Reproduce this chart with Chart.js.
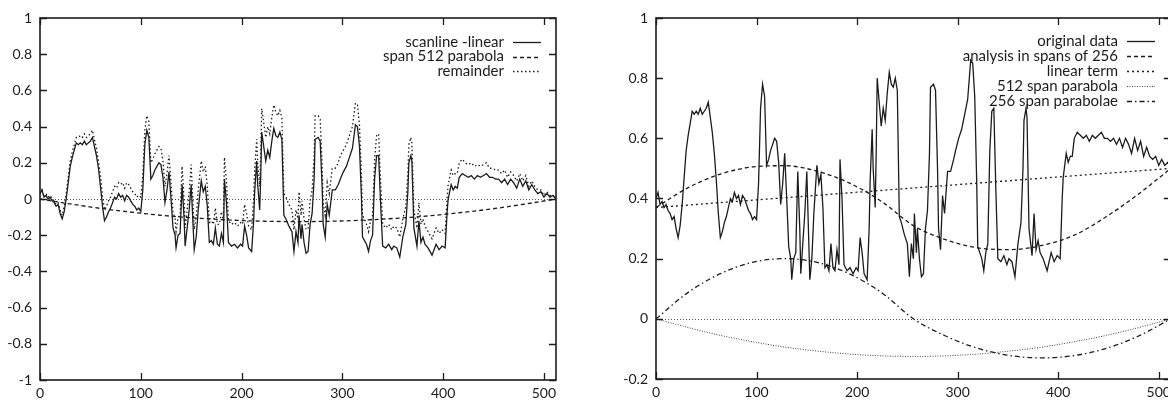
<!DOCTYPE html>
<html lang="en">
<head>
<meta charset="UTF-8">
<title>Scanline analysis</title>
<script src="https://cdn.jsdelivr.net/npm/chart.js"></script>
<style>
  html, body { margin: 0; padding: 0; background: #fff; overflow: hidden; width: 1168px; height: 401px; }
  canvas { position: absolute; top: 0; }
  #leftChart { left: 0; }
  #rightChart { left: 584px; }
</style>
</head>
<body>
<canvas id="leftChart" width="584" height="401"></canvas>
<canvas id="rightChart" width="592" height="401"></canvas>
<script>
// scanline sample positions (pixel index along the line)
const scanX = [
  0, 2, 4, 6, 8, 10, 12, 14, 16, 18,
  20, 22, 24, 26, 28, 30, 32, 34, 36, 38,
  40, 42, 44, 46, 48, 50, 52, 54, 56, 58,
  60, 62, 64, 66, 68, 70, 72, 74, 76, 78,
  80, 82, 84, 86, 88, 90, 92, 94, 96, 98,
  100, 102, 104, 106, 108, 110, 112, 114, 116, 118,
  120, 122, 124, 126, 128, 130, 132, 134, 135, 137,
  139, 141, 143, 144, 146, 148, 150, 152, 153, 155,
  157, 160, 162, 164, 166, 168, 170, 172, 174, 176,
  178, 180, 182, 183, 185, 187, 190, 193, 196, 199,
  201, 203, 205, 207, 210, 212, 213, 215, 216, 218,
  219, 220, 222, 224, 226, 228, 230, 232, 234, 236,
  238, 240, 241, 242, 244, 247, 250, 252, 254, 256,
  257, 259, 260, 262, 264, 266, 268, 270, 272, 273,
  276, 278, 280, 281, 283, 285, 287, 290, 293, 296,
  298, 301, 304, 307, 310, 313, 315, 317, 319, 320,
  322, 324, 326, 328, 330, 332, 334, 336, 338, 340,
  343, 346, 349, 351, 354, 357, 360, 363, 365, 366,
  368, 369, 371, 374, 376, 378, 380, 382, 385, 389,
  391, 393, 396, 399, 402, 404, 405, 408, 410, 412,
  414, 416, 419, 422, 425, 428, 431, 434, 437, 440,
  443, 446, 449, 452, 455, 458, 461, 464, 467, 470,
  473, 476, 479, 482, 485, 488, 491, 494, 497, 500,
  503, 506, 509, 512
];

// right plot: original data
const originalData = [
  .40, .42, .38, .39, .37, .38, .36, .35, .33, .34,
  .30, .27, .31, .38, .47, .56, .61, .65, .69, .68,
  .69, .68, .70, .68, .69, .70, .72, .67, .62, .55,
  .46, .35, .27, .29, .32, .34, .37, .40, .39, .42,
  .40, .41, .38, .41, .40, .38, .36, .35, .33, .34,
  .33, .45, .70, .78, .74, .51, .53, .56, .58, .60,
  .59, .52, .38, .45, .55, .40, .24, .20, .13, .20,
  .22, .49, .30, .15, .25, .35, .49, .25, .13, .20,
  .35, .51, .45, .48, .37, .17, .18, .16, .25, .17,
  .16, .23, .18, .53, .40, .18, .16, .17, .15, .17,
  .16, .27, .22, .15, .13, .30, .46, .63, .50, .37,
  .55, .80, .72, .64, .70, .66, .75, .82, .78, .77,
  .80, .76, .55, .34, .32, .28, .25, .14, .25, .20,
  .35, .22, .30, .20, .14, .15, .30, .36, .55, .77,
  .78, .76, .50, .30, .23, .41, .35, .49, .49, .53,
  .56, .60, .63, .68, .73, .86, .85, .74, .45, .24,
  .22, .20, .16, .22, .25, .56, .69, .70, .43, .20,
  .19, .21, .18, .20, .19, .14, .25, .32, .50, .66,
  .70, .67, .30, .21, .35, .23, .26, .22, .20, .16,
  .19, .22, .19, .21, .20, .40, .47, .55, .52, .54,
  .54, .60, .62, .61, .60, .61, .59, .61, .60, .61,
  .62, .60, .60, .59, .60, .58, .60, .57, .60, .58,
  .55, .60, .56, .59, .54, .57, .54, .53, .54, .51,
  .53, .51, .52, .50
];

// left plot: scanline minus linear term
const scanlineMinusLinear = [
  .03, .05, .01, .02, .00, .01, -.01, -.02, -.04, -.03,
  -.08, -.11, -.07, .00, .09, .18, .23, .27, .31, .30,
  .31, .30, .32, .30, .31, .32, .34, .29, .24, .17,
  .07, -.04, -.12, -.10, -.07, -.05, -.02, .01, .00, .03,
  .01, .02, -.01, .02, .01, -.01, -.03, -.04, -.06, -.05,
  -.07, .05, .30, .38, .34, .11, .13, .16, .18, .20,
  .19, .12, -.02, .05, .15, .00, -.16, -.20, -.27, -.20,
  -.19, .08, -.11, -.26, -.16, -.06, .08, -.16, -.28, -.21,
  -.06, .10, .04, .07, -.04, -.24, -.23, -.25, -.16, -.25,
  -.26, -.19, -.24, .11, -.02, -.24, -.26, -.25, -.27, -.25,
  -.26, -.15, -.20, -.27, -.29, -.12, .04, .21, .08, -.06,
  .12, .37, .29, .21, .27, .23, .32, .39, .35, .34,
  .37, .33, .12, -.09, -.11, -.15, -.18, -.29, -.18, -.24,
  -.09, -.22, -.14, -.24, -.30, -.29, -.14, -.08, .11, .33,
  .34, .32, .06, -.14, -.21, -.03, -.09, .05, .05, .08,
  .11, .15, .18, .23, .28, .41, .40, .29, .00, -.21,
  -.23, -.25, -.29, -.23, -.20, .11, .24, .24, -.03, -.26,
  -.27, -.25, -.28, -.26, -.27, -.32, -.21, -.14, .04, .20,
  .24, .21, -.16, -.26, -.12, -.24, -.21, -.25, -.27, -.31,
  -.28, -.25, -.28, -.26, -.27, -.07, .00, .08, .05, .07,
  .06, .12, .14, .13, .12, .13, .11, .13, .12, .13,
  .14, .12, .12, .11, .11, .09, .11, .08, .11, .09,
  .06, .11, .07, .10, .05, .08, .05, .03, .04, .01,
  .03, .01, .02, .00
];

// left plot: remainder after the 512 span parabola
const remainderData = [
  .03, .05, .01, .03, .01, .02, .00, -.01, -.03, -.02,
  -.06, -.09, -.04, .03, .12, .21, .26, .30, .34, .34,
  .35, .34, .36, .34, .35, .36, .38, .33, .28, .21,
  .13, .02, -.06, -.04, -.01, .01, .04, .07, .06, .09,
  .08, .09, .06, .09, .08, .06, .04, .03, .01, .02,
  .01, .13, .38, .46, .43, .20, .22, .25, .27, .29,
  .28, .21, .07, .14, .24, .09, -.07, -.11, -.18, -.10,
  -.09, .18, -.01, -.16, -.06, .04, .19, -.05, -.17, -.10,
  .05, .21, .15, .18, .07, -.13, -.12, -.14, -.05, -.14,
  -.14, -.07, -.12, .23, .10, -.12, -.14, -.13, -.15, -.13,
  -.14, -.03, -.08, -.15, -.17, .00, .16, .33, .20, .07,
  .25, .50, .42, .34, .40, .36, .45, .52, .48, .46,
  .49, .45, .24, .03, .01, -.03, -.06, -.17, -.06, -.11,
  .04, -.09, -.01, -.11, -.17, -.16, -.01, .05, .24, .46,
  .46, .44, .18, -.02, -.09, .09, .03, .17, .17, .20,
  .24, .27, .30, .35, .40, .53, .52, .41, .12, -.09,
  -.11, -.14, -.18, -.12, -.09, .22, .35, .36, .09, -.14,
  -.16, -.14, -.17, -.15, -.16, -.21, -.11, -.04, .14, .30,
  .34, .31, -.06, -.16, -.02, -.14, -.11, -.15, -.18, -.22,
  -.19, -.16, -.19, -.17, -.19, .01, .08, .16, .13, .14,
  .14, .20, .22, .20, .19, .20, .18, .19, .18, .19,
  .20, .17, .17, .16, .16, .14, .16, .12, .15, .13,
  .10, .14, .10, .13, .07, .10, .07, .05, .05, .02,
  .04, .02, .02, .00
];

// smooth fitted curves, read every 32 samples
const curveX = [0, 32, 64, 96, 128, 160, 192, 224, 256, 288, 320, 352, 384, 416, 448, 480, 512];
const parabola512 = [0, -.029, -.055, -.076, -.094, -.107, -.117, -.123, -.125, -.123, -.117, -.107, -.094, -.076, -.055, -.029, 0];
const parabolae256 = [0, .088, .15, .188, .2, .188, .15, .088, 0, -.057, -.098, -.122, -.13, -.122, -.098, -.057, 0];
const analysis256 = [.37, .436, .481, .505, .509, .491, .452, .391, .31, .263, .236, .23, .244, .278, .34, .415, .5];
const linearX = [0, 512];
const linearTerm = [.37, .50];

const xTicks = [0, 100, 200, 300, 400, 500];
const leftYTicks = [-1, -0.8, -0.6, -0.4, -0.2, 0, 0.2, 0.4, 0.6, 0.8, 1];
const rightYTicks = [-0.2, 0, 0.2, 0.4, 0.6, 0.8, 1];

const INK = '#1c1c1c';
const FONT = 'Lato, "Noto Sans", sans-serif';

function pts(xs, ys) {
  return xs.map((x, i) => ({ x: x, y: ys[i] }));
}

// gnuplot-like frame: border, inward ticks on all sides, dotted zero axis, key at top right
const gnuplotFrame = {
  id: 'gnuplotFrame',
  beforeDatasetsDraw(chart) {
    const { ctx, chartArea: a, scales } = chart;
    const y0 = Math.round(scales.y.getPixelForValue(0)) + 0.5;
    ctx.save();
    ctx.strokeStyle = '#555';
    ctx.lineWidth = 1;
    ctx.setLineDash([1, 2]);
    ctx.beginPath();
    ctx.moveTo(a.left, y0);
    ctx.lineTo(a.right, y0);
    ctx.stroke();
    ctx.restore();
  },
  afterDraw(chart, args, opts) {
    const { ctx, chartArea: a, scales } = chart;
    ctx.save();
    ctx.strokeStyle = INK;
    ctx.lineWidth = 1.6;
    ctx.strokeRect(a.left, a.top, a.right - a.left, a.bottom - a.top);

    ctx.lineWidth = 1.3;
    ctx.beginPath();
    scales.x.ticks.forEach(t => {
      const px = Math.round(scales.x.getPixelForValue(t.value)) + 0.5;
      ctx.moveTo(px, a.bottom); ctx.lineTo(px, a.bottom - 7);
      ctx.moveTo(px, a.top); ctx.lineTo(px, a.top + 7);
    });
    scales.y.ticks.forEach(t => {
      const py = Math.round(scales.y.getPixelForValue(t.value)) + 0.5;
      ctx.moveTo(a.left, py); ctx.lineTo(a.left + 7, py);
      ctx.moveTo(a.right, py); ctx.lineTo(a.right - 7, py);
    });
    ctx.stroke();

    // key
    ctx.font = '15px ' + FONT;
    ctx.fillStyle = INK;
    ctx.textAlign = 'right';
    ctx.textBaseline = 'middle';
    chart.data.datasets.forEach((ds, i) => {
      const y = opts.top + i * opts.step;
      ctx.fillText(ds.label, opts.textRight, y);
      ctx.save();
      ctx.strokeStyle = ds.borderColor;
      ctx.lineWidth = ds.borderWidth;
      ctx.setLineDash(ds.borderDash || []);
      ctx.beginPath();
      ctx.moveTo(opts.sampleLeft, Math.round(y) + 0.5);
      ctx.lineTo(opts.sampleLeft + 28, Math.round(y) + 0.5);
      ctx.stroke();
      ctx.restore();
    });
    ctx.restore();
  }
};

function baseOptions(yTicks, yWidth, xHeight, padRight, key) {
  return {
    responsive: false,
    animation: false,
    layout: { padding: { top: 18, right: padRight, bottom: 0, left: 0 } },
    elements: { point: { radius: 0 }, line: { tension: 0 } },
    plugins: {
      legend: { display: false },
      tooltip: { enabled: false },
      gnuplotFrame: key
    },
    scales: {
      x: {
        type: 'linear',
        min: 0,
        max: 512,
        grid: { display: false, drawTicks: false },
        border: { display: false },
        ticks: { color: INK, font: { family: FONT, size: 14 }, padding: 5, maxRotation: 0 },
        afterBuildTicks: axis => { axis.ticks = xTicks.map(v => ({ value: v })); },
        afterFit: scale => { scale.height = xHeight; }
      },
      y: {
        min: yTicks[0],
        max: yTicks[yTicks.length - 1],
        grid: { display: false, drawTicks: false },
        border: { display: false },
        ticks: {
          color: INK,
          font: { family: FONT, size: 14 },
          padding: 8,
          callback: v => String(Math.round(v * 10) / 10)
        },
        afterBuildTicks: axis => { axis.ticks = yTicks.map(v => ({ value: v })); },
        afterFit: scale => { scale.width = yWidth; }
      }
    }
  };
}

new Chart(document.getElementById('leftChart'), {
  type: 'line',
  data: {
    datasets: [
      { label: 'scanline -linear', data: pts(scanX, scanlineMinusLinear), borderColor: INK, borderWidth: 1.3 },
      { label: 'span 512 parabola', data: pts(curveX, parabola512), borderColor: INK, borderWidth: 1.3,
        borderDash: [4, 3], cubicInterpolationMode: 'monotone' },
      { label: 'remainder', data: pts(scanX, remainderData), borderColor: INK, borderWidth: 1.3, borderDash: [1.5, 2.5] }
    ]
  },
  options: baseOptions(leftYTicks, 40, 21, 28,
    { top: 42, step: 14.5, textRight: 504, sampleLeft: 513 }),
  plugins: [gnuplotFrame]
});

new Chart(document.getElementById('rightChart'), {
  type: 'line',
  data: {
    datasets: [
      { label: 'original data', data: pts(scanX, originalData), borderColor: INK, borderWidth: 1.3 },
      { label: 'analysis in spans of 256', data: pts(curveX, analysis256), borderColor: INK, borderWidth: 1.3,
        borderDash: [4, 3], cubicInterpolationMode: 'monotone' },
      { label: 'linear term', data: pts(linearX, linearTerm), borderColor: INK, borderWidth: 1.3, borderDash: [2, 3] },
      { label: '512 span parabola', data: pts(curveX, parabola512), borderColor: '#444', borderWidth: 1,
        borderDash: [1, 1.5], cubicInterpolationMode: 'monotone' },
      { label: '256 span parabolae', data: pts(curveX, parabolae256), borderColor: INK, borderWidth: 1.3,
        borderDash: [5, 3, 1.5, 3], cubicInterpolationMode: 'monotone' }
    ]
  },
  options: baseOptions(rightYTicks, 72, 22, 4,
    { top: 41, step: 15, textRight: 534, sampleLeft: 543 }),
  plugins: [gnuplotFrame]
});
</script>
</body>
</html>
